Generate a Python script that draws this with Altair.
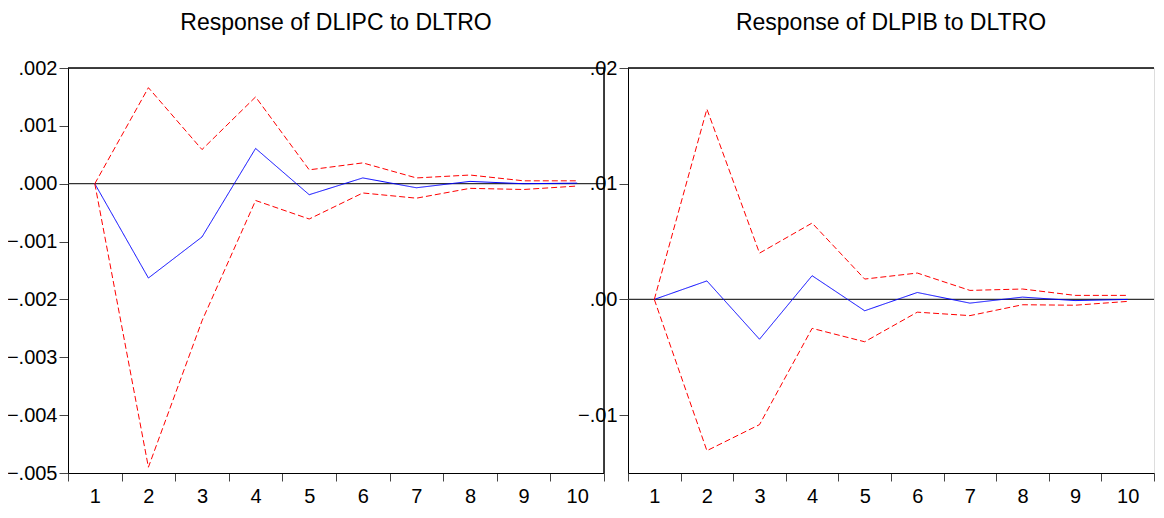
import altair as alt
import pandas as pd

periods = [1, 2, 3, 4, 5, 6, 7, 8, 9, 10]

# Response of DLIPC to DLTRO
ipc_resp = [0.0, -0.00163, -0.00092, 0.00061, -0.00019, 0.00010, -0.00007, 0.00004, 0.0, 0.00001]
ipc_upper = [0.0, 0.00166, 0.00059, 0.00150, 0.00024, 0.00036, 0.00010, 0.00015, 0.00005, 0.00005]
ipc_lower = [0.0, -0.00490, -0.00237, -0.00029, -0.00061, -0.00016, -0.00025, -0.00008, -0.00010, -0.00004]

# Response of DLPIB to DLTRO
pib_resp = [0.0, 0.0016, -0.00344, 0.00205, -0.00098, 0.0006, -0.00032, 0.0002, -0.0001, 0.0]
pib_upper = [0.0, 0.01645, 0.0040, 0.0066, 0.00176, 0.00228, 0.00078, 0.0009, 0.00035, 0.00035]
pib_lower = [0.0, -0.01307, -0.01082, -0.0025, -0.00366, -0.0011, -0.0014, -0.00046, -0.0005, -0.00017]

ipc_ticks = [-0.005, -0.004, -0.003, -0.002, -0.001, 0.0, 0.001, 0.002]
pib_ticks = [-0.01, 0.0, 0.01, 0.02]

FONT = "Liberation Sans"
H = 405


def long_df(resp, upper, lower):
    rows = []
    for name, vals in (("resp", resp), ("upper", upper), ("lower", lower)):
        for p, v in zip(periods, vals):
            rows.append({"period": p, "value": v, "series": name})
    return pd.DataFrame(rows)


def panel(resp, upper, lower, title, domain, ticks, fmt, width, left_box):
    df = long_df(resp, upper, lower)
    x = alt.X(
        "period:O",
        scale=alt.Scale(type="band", paddingInner=0, paddingOuter=0),
        bandPosition=0.5,
        axis=alt.Axis(
            title=None, labelAngle=0, tickBand="extent", tickSize=8,
            labelPadding=5, labelFontSize=20, labelFont=FONT, labelColor="black",
            domainColor="black", tickColor="#444444", grid=False,
        ),
    )
    y = alt.Y(
        "value:Q",
        scale=alt.Scale(domain=domain, nice=False, zero=False),
        axis=alt.Axis(
            title=None, values=ticks, tickSize=9, labelPadding=2,
            labelFontSize=20, labelFont=FONT, labelColor="black",
            domainColor="black", tickColor="#444444", grid=False,
            labelExpr=f"replace(format(datum.value, '{fmt}'), '0.', '.')",
        ),
    )
    lines = alt.Chart(df).mark_line(strokeWidth=1).encode(
        x=x,
        y=y,
        color=alt.Color("series:N", scale=alt.Scale(domain=["resp", "upper", "lower"],
                                                     range=["#0000FF", "#FF0000", "#FF0000"]), legend=None),
        strokeDash=alt.StrokeDash("series:N", scale=alt.Scale(domain=["resp", "upper", "lower"],
                                                               range=[[1, 0], [6, 3], [6, 3]]), legend=None),
        detail="series:N",
    )
    zero = alt.Chart(pd.DataFrame({"z": [0.0]})).mark_rule(color="#333333", strokeWidth=1.2).encode(
        y=alt.Y("z:Q", scale=alt.Scale(domain=domain, nice=False, zero=False))
    )
    top = alt.Chart(pd.DataFrame({"a": [0]})).mark_rule(color="black", strokeWidth=1.5).encode(
        x=alt.value(0), x2=alt.value(width), y=alt.value(0)
    )
    layers = [zero, lines, top]
    if left_box:
        right = alt.Chart(pd.DataFrame({"a": [0]})).mark_rule(color="black", strokeWidth=1.5).encode(
            x=alt.value(width), y=alt.value(0), y2=alt.value(H)
        )
        layers.append(right)
    return alt.layer(*layers).properties(
        width=width, height=H,
        title=alt.TitleParams(title, fontSize=23, font=FONT, fontWeight="normal",
                              color="black", anchor="middle", frame="group", offset=23),
    )


left = panel(ipc_resp, ipc_upper, ipc_lower, "Response of DLIPC to DLTRO",
             [-0.005, 0.002], ipc_ticks, ".3f", 536, True)
right = panel(pib_resp, pib_upper, pib_lower, "Response of DLPIB to DLTRO",
              [-0.015, 0.02], pib_ticks, ".2f", 526, False)

chart = alt.hconcat(left, right, spacing=24, bounds="flush").properties(
    padding={"left": -3, "top": 3, "right": 0, "bottom": 0}
).configure_view(stroke="transparent").configure(background="white")

chart.save("out.html", embed_options={"renderer": "svg", "actions": False})
